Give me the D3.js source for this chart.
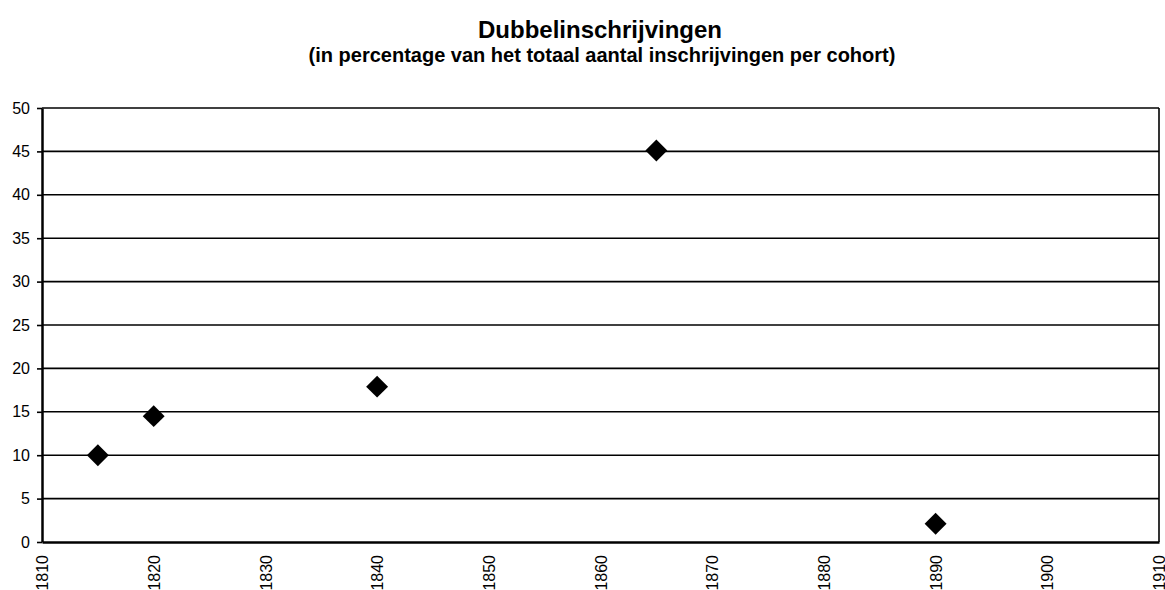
<!DOCTYPE html>
<html lang="nl">
<head>
<meta charset="utf-8">
<title>Dubbelinschrijvingen</title>
<script src="https://cdn.jsdelivr.net/npm/d3@7"></script>
<style>
  body { margin: 0; background: #fff; }
  svg text { font-family: Arial, "Liberation Sans", sans-serif; fill: #000; }
</style>
</head>
<body>
<div id="chart"></div>
<script>
// cohort year -> percentage of double registrations
const years = [1815, 1820, 1840, 1865, 1890];
const percentages = [10, 14.5, 17.9, 45.1, 2.1];
const xTicks = [1810, 1820, 1830, 1840, 1850, 1860, 1870, 1880, 1890, 1900, 1910];
const yTicks = [0, 5, 10, 15, 20, 25, 30, 35, 40, 45, 50];

const W = 1165, H = 590;
const margin = {top: 108, right: 6, bottom: 48, left: 42};

const svg = d3.select("#chart").append("svg")
  .attr("width", W).attr("height", H);

const x = d3.scaleLinear().domain([1810, 1910]).range([margin.left, W - margin.right]);
const y = d3.scaleLinear().domain([0, 50]).range([H - margin.bottom, margin.top]);

// titles
svg.append("text")
  .attr("x", 600).attr("y", 38)
  .attr("text-anchor", "middle")
  .style("font-size", "24px").style("font-weight", "bold")
  .text("Dubbelinschrijvingen");
svg.append("text")
  .attr("x", 602).attr("y", 62)
  .attr("text-anchor", "middle")
  .style("font-size", "20px").style("font-weight", "bold")
  .text("(in percentage van het totaal aantal inschrijvingen per cohort)");

// gridlines
svg.append("g").selectAll("line")
  .data(yTicks.filter(d => d > 0))
  .join("line")
  .attr("x1", x(1810)).attr("x2", x(1910))
  .attr("y1", d => y(d)).attr("y2", d => y(d))
  .attr("stroke", "#000").attr("stroke-width", 1.6);

// right border
svg.append("line")
  .attr("x1", x(1910)).attr("x2", x(1910))
  .attr("y1", y(0)).attr("y2", y(50))
  .attr("stroke", "#000").attr("stroke-width", 1.6);

// y axis
const yAxis = svg.append("g")
  .attr("transform", `translate(${margin.left},0)`)
  .call(d3.axisLeft(y).tickValues(yTicks).tickSize(5).tickSizeOuter(0).tickPadding(7));
yAxis.select(".domain").attr("stroke-width", 2.5);
yAxis.selectAll(".tick line").attr("stroke-width", 1.6);
yAxis.selectAll("text").style("font-size", "16px");

// x axis
const xAxis = svg.append("g")
  .attr("transform", `translate(0,${y(0)})`)
  .call(d3.axisBottom(x).tickValues(xTicks).tickFormat(d3.format("d")).tickSize(0).tickSizeOuter(0));
xAxis.select(".domain").attr("stroke-width", 2.5);
xAxis.selectAll("text")
  .style("font-size", "16px")
  .attr("transform", "rotate(-90)")
  .attr("text-anchor", "end")
  .attr("x", -13).attr("y", 0).attr("dy", "0.35em");

// markers
const pts = years.map((yr, i) => ({yr, v: percentages[i]}));
svg.append("g").selectAll("path")
  .data(pts)
  .join("path")
  .attr("d", d3.symbol(d3.symbolSquare, 240))
  .attr("transform", d => `translate(${x(d.yr)},${y(d.v)}) rotate(45)`)
  .attr("fill", "#000");
</script>
</body>
</html>
